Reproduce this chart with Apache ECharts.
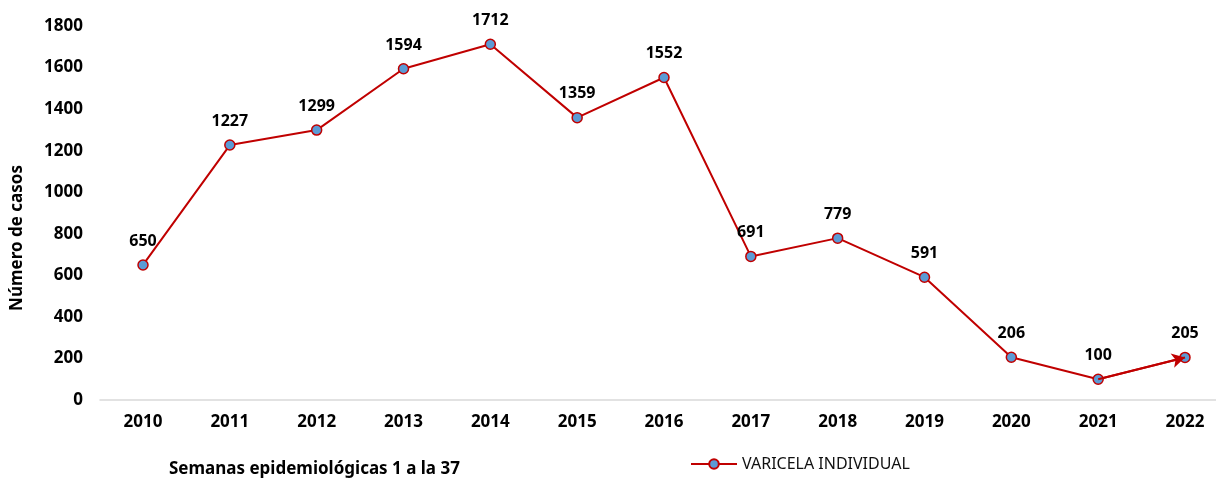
<!DOCTYPE html>
<html>
<head>
<meta charset="utf-8">
<script src="https://cdn.jsdelivr.net/npm/echarts@6/dist/echarts.min.js"></script>
<style>
  html, body { margin: 0; padding: 0; background: #fff; }
  #chart { width: 1216px; height: 481px; }
</style>
</head>
<body>
<div id="chart"></div>
<script>
var years = ['2010', '2011', '2012', '2013', '2014', '2015', '2016', '2017', '2018', '2019', '2020', '2021', '2022'];
var casos = [650, 1227, 1299, 1594, 1712, 1359, 1552, 691, 779, 591, 206, 100, 205];
var yTicks = [0, 200, 400, 600, 800, 1000, 1200, 1400, 1600, 1800];

var font = 'Noto Sans';
var chart = echarts.init(document.getElementById('chart'));

var last = years.length - 1;

var option = {
    backgroundColor: '#ffffff',
    animation: false,
    title: {
        text: 'Semanas epidemiológicas 1 a la 37',
        left: 164,
        top: 456,
        textStyle: { fontFamily: font, fontSize: 17, fontWeight: 'bold', color: '#000' }
    },
    legend: {
        data: ['VARICELA INDIVIDUAL'],
        left: 685,
        top: 451,
        itemWidth: 46,
        itemHeight: 12,
        itemGap: 5,
        textStyle: { fontFamily: font, fontSize: 16, color: '#111' }
    },
    grid: [
        // plot area: first and last year sit on the edges
        { left: 143, right: 31, top: 26, height: 374 },
        // only used to draw the wider baseline
        { left: 100, right: 0, top: 26, height: 374 }
    ],
    xAxis: [{
        type: 'category',
        data: years,
        boundaryGap: false,
        axisLine: { show: false },
        axisTick: { show: false },
        axisLabel: {
            margin: 14,
            fontFamily: font, fontSize: 17, fontWeight: 'bold', color: '#000'
        }
    }, {
        type: 'value',
        gridIndex: 1,
        min: 0,
        max: 1,
        axisLine: { show: true, lineStyle: { color: '#d9d9d9', width: 1.5 } },
        axisTick: { show: false },
        axisLabel: { show: false },
        splitLine: { show: false }
    }],
    yAxis: [{
        type: 'value',
        min: yTicks[0],
        max: yTicks[yTicks.length - 1],
        interval: 200,
        offset: 43,
        name: 'Número de casos',
        nameLocation: 'middle',
        nameGap: 74,
        nameTextStyle: {
            fontFamily: font, fontSize: 17, fontWeight: 'bold', color: '#000',
            padding: [0, 50, 0, 0]
        },
        axisLine: { show: false },
        axisTick: { show: false },
        splitLine: { show: false },
        axisLabel: {
            margin: 17,
            formatter: function (v) { return String(v); },
            fontFamily: font, fontSize: 17, fontWeight: 'bold', color: '#000'
        }
    }, {
        type: 'value',
        gridIndex: 1,
        show: false
    }],
    series: [{
        name: 'VARICELA INDIVIDUAL',
        type: 'line',
        data: casos,
        z: 3,
        symbol: 'circle',
        symbolSize: 10,
        lineStyle: { color: '#C00000', width: 2 },
        itemStyle: { color: '#5B9BD5', borderColor: '#C00000', borderWidth: 1.5 },
        label: {
            show: true,
            position: 'top',
            distance: 10,
            fontFamily: font, fontSize: 16, fontWeight: 'bold', color: '#000'
        },
        markLine: {
            silent: true,
            symbol: ['none', 'arrow'],
            symbolSize: [11, 13],
            label: { show: false },
            lineStyle: { color: '#C00000', width: 2, type: 'solid' },
            data: [[
                { coord: [years[last - 1], casos[last - 1]] },
                { coord: [years[last], casos[last]] }
            ]]
        }
    }]
};

chart.setOption(option);
</script>
</body>
</html>
